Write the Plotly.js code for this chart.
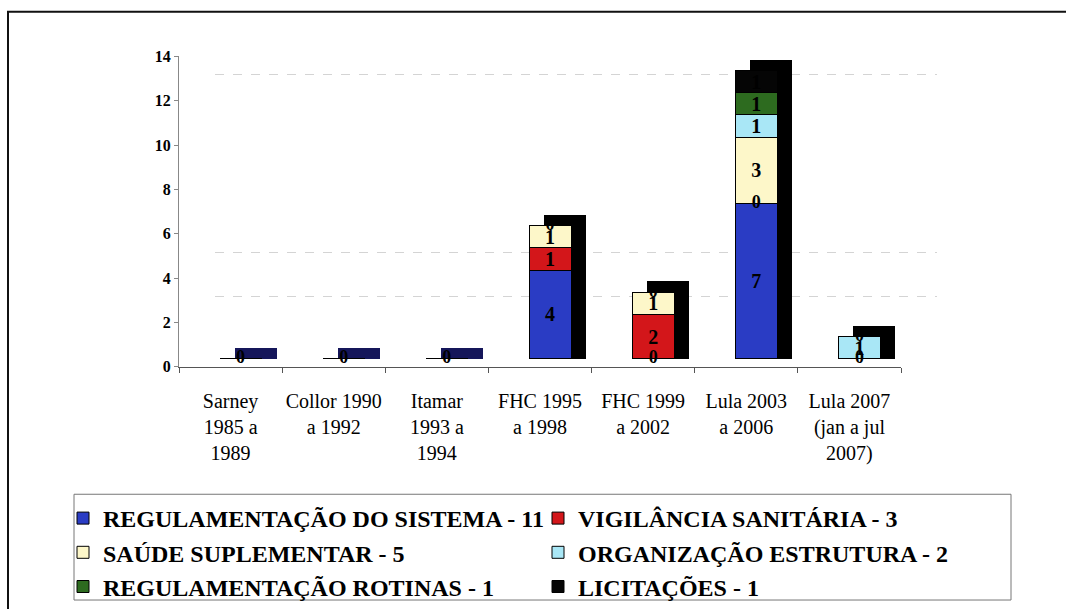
<!DOCTYPE html>
<html><head><meta charset="utf-8">
<script src="https://cdn.plot.ly/plotly-3.0.1.min.js"></script>
<style>html,body{margin:0;padding:0;background:#fff}#chart{width:1066px;height:609px}</style>
</head><body><div id="chart"></div>
<script>
// ---- data ----
const categories = ['Sarney<br>1985 a<br>1989', 'Collor 1990<br>a 1992', 'Itamar<br>1993 a<br>1994',
  'FHC 1995<br>a 1998', 'FHC 1999<br>a 2002', 'Lula 2003<br>a 2006', 'Lula 2007<br>(jan a jul<br>2007)'];
const regulamentacaoSistema = [0, 0, 0, 4, 0, 7, 0];
const vigilanciaSanitaria   = [0, 0, 0, 1, 2, 0, 0];
const saudeSuplementar      = [0, 0, 0, 1, 1, 3, 0];
const organizacaoEstrutura  = [0, 0, 0, 0, 0, 1, 1];
const regulamentacaoRotinas = [0, 0, 0, 0, 0, 1, 0];
const licitacoes            = [0, 0, 0, 0, 0, 1, 0];
const seriesLabels = ['REGULAMENTAÇÃO DO SISTEMA', 'VIGILÂNCIA SANITÁRIA', 'SAÚDE SUPLEMENTAR',
  'ORGANIZAÇÃO ESTRUTURA', 'REGULAMENTAÇÃO ROTINAS', 'LICITAÇÕES'];
const yTicks = [0, 2, 4, 6, 8, 10, 12, 14];

// ---- style ----
const seriesValues = [regulamentacaoSistema, vigilanciaSanitaria, saudeSuplementar,
  organizacaoEstrutura, regulamentacaoRotinas, licitacoes];
const seriesColors = ['#2a3cc4', '#d3161a', '#fdf7c9', '#a9e7f6', '#2d6b1f', '#050505'];
const W = 1066, H = 609;
const plotL = 179, plotR = 901, plotT = 57, plotB = 371;
const catW = (plotR - plotL) / categories.length;
const yPerPx = 14 / (plotB - plotT);
const frontShift = 10 / catW, depthShift = 25 / catW;
const floorOff = 8 * yPerPx, depthY = 11 * yPerPx;
const barW = 42 / catW;
const serif = 'Liberation Serif';

const totals = categories.map((_, j) => seriesValues.reduce((s, arr) => s + arr[j], 0));

const traces = [];
traces.push({type: 'scatter', x: [], y: [], xaxis: 'x', yaxis: 'y', showlegend: false, hoverinfo: 'skip'});
traces.push({type: 'scatter', x: categories, y: categories.map(() => null), xaxis: 'x2', yaxis: 'y2',
  showlegend: false, hoverinfo: 'skip', mode: 'markers'});
// depth (3D extrusion) of each stack
traces.push({type: 'bar', x: categories, y: totals.map(t => t + depthY), base: 0,
  xaxis: 'x3', yaxis: 'y3', width: barW, showlegend: false, hoverinfo: 'skip',
  marker: {color: totals.map(t => t === 0 ? '#15165a' : '#000000'), line: {width: 0}}});
// front faces
seriesValues.forEach((vals, i) => {
  const total = vals.reduce((a, b) => a + b, 0);
  traces.push({type: 'bar', name: seriesLabels[i] + ' - ' + total, x: categories, y: vals,
    xaxis: 'x4', yaxis: 'y3', width: barW,
    marker: {color: seriesColors[i], line: {color: '#000', width: 1}},
    text: vals.map(v => v === 0 ? '' : String(v)), textposition: 'inside', insidetextanchor: 'middle',
    textangle: 0, constraintext: 'none',
    textfont: {family: serif, size: 20, color: '#000', weight: 'bold'},
    hoverinfo: 'name+y'});
});
// zero labels (one per distinct stack position)
const zx = [], zy = [];
categories.forEach((c, j) => {
  const seen = new Set();
  let base = 0;
  seriesValues.forEach(vals => {
    if (vals[j] === 0 && !seen.has(base)) { seen.add(base); zx.push(c); zy.push(base); }
    base += vals[j];
  });
});
traces.push({type: 'scatter', mode: 'text', x: zx, y: zy, text: zx.map(() => '0'),
  xaxis: 'x4', yaxis: 'y3', showlegend: false, hoverinfo: 'skip',
  textposition: 'middle center', textfont: {family: serif, size: 18, color: '#000', weight: 'bold'}});

const layout = {
  width: W, height: H, margin: {l: 0, r: 0, t: 0, b: 0},
  paper_bgcolor: '#fff', plot_bgcolor: 'rgba(0,0,0,0)',
  barmode: 'stack', showlegend: true,
  font: {family: serif, color: '#000'},
  xaxis: {domain: [(plotL + 36) / W, (plotR + 36) / W], anchor: 'y', range: [0, 1],
    showgrid: false, zeroline: false, showline: false, showticklabels: false, ticks: '', fixedrange: true},
  yaxis: {domain: [(H - plotB + 26) / H, (H - plotT + 26) / H], anchor: 'x', range: [0, 14],
    tickvals: [2, 4, 12], showticklabels: false, ticks: '', showgrid: true, gridcolor: '#d4d4d4',
    griddash: 'dash', gridwidth: 1, zeroline: false, showline: false, fixedrange: true},
  xaxis2: {domain: [plotL / W, plotR / W], anchor: 'y2', type: 'category', range: [-0.5, 6.5],
    tickson: 'boundaries', ticks: 'outside', ticklen: 5, tickcolor: '#555', showline: true,
    linecolor: '#555', showgrid: false, zeroline: false, automargin: false, tickangle: 0,
    ticklabelstandoff: 16,
    tickfont: {family: serif, size: 20, color: '#000'}, fixedrange: true},
  yaxis2: {domain: [(H - plotB) / H, (H - plotT) / H], anchor: 'x2', range: [0, 14],
    tickvals: yTicks, ticks: 'outside', ticklen: 4, tickcolor: '#888', showline: true, linecolor: '#888',
    showgrid: false, zeroline: false, automargin: false,
    tickfont: {family: serif, size: 16, color: '#000', weight: 'bold'}, fixedrange: true},
  xaxis3: {overlaying: 'x2', anchor: 'y3', type: 'category', range: [-0.5 - depthShift, 6.5 - depthShift],
    visible: false, fixedrange: true},
  xaxis4: {overlaying: 'x2', anchor: 'y3', type: 'category', range: [-0.5 - frontShift, 6.5 - frontShift],
    visible: false, fixedrange: true},
  yaxis3: {overlaying: 'y2', anchor: 'x3', range: [-floorOff, 14 - floorOff], visible: false, fixedrange: true},
  legend: {orientation: 'h', x: 63 / W, xanchor: 'left', y: 1 - 502 / H, yanchor: 'top',
    traceorder: 'normal', bgcolor: 'rgba(0,0,0,0)', borderwidth: 0,
    entrywidth: 430, entrywidthmode: 'pixels',
    font: {family: serif, size: 24, color: '#000', weight: 'bold'}},
  shapes: [
    {type: 'rect', xref: 'paper', yref: 'paper', x0: 8 / W, x1: 1.02, y0: 1 - 12 / H, y1: -0.02,
      line: {color: '#111', width: 2}},
    {type: 'rect', xref: 'paper', yref: 'paper', x0: 74 / W, x1: 1011 / W, y0: 1 - 500 / H, y1: 1 - 607 / H,
      line: {color: '#777', width: 1}}
  ]
};
Plotly.newPlot('chart', traces, layout, {displayModeBar: false, staticPlot: true});
</script></body></html>
